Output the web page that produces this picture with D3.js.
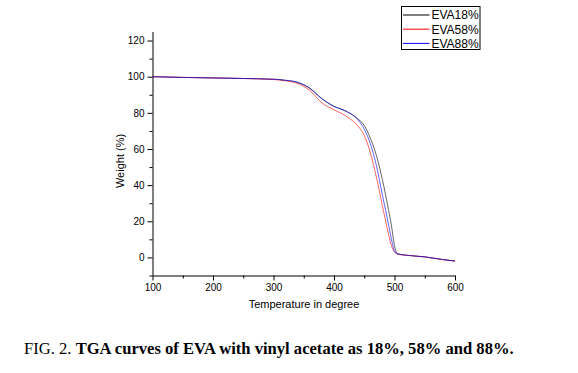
<!DOCTYPE html>
<html>
<head>
<meta charset="utf-8">
<script src="https://cdn.jsdelivr.net/npm/d3@7"></script>
<style>
  body { margin: 0; background: #fff; }
  svg { display: block; }
  .axis text { font-family: "Liberation Sans", Arial, sans-serif; font-size: 10px; fill: #000; }
  .axis path, .axis line { stroke: #000; }
</style>
</head>
<body>
<div class="chart"></div>
<script>
// temperature points (degree)
var temps = [100, 150, 200, 250, 300, 320, 340, 360, 380, 400, 420, 440, 450, 460, 470, 480, 490, 495, 500, 505, 520, 550, 580, 600];

// weight (%) for each sample
var eva18 = [100, 99.6, 99.3, 99.0, 98.6, 98.0, 96.8, 93.5, 87.8, 83.6, 80.8, 76.5, 73.0, 66.0, 56.5, 43.0, 26.5, 17.5, 6.5, 2.0, 1.2, 0.3, -1.2, -2.0];
var eva58 = [100, 99.6, 99.3, 99.0, 98.4, 97.7, 96.2, 92.4, 85.5, 81.7, 78.2, 72.5, 67.5, 58.0, 44.5, 28.6, 13.0, 6.5, 3.0, 1.8, 1.2, 0.3, -1.2, -2.0];
var eva88 = [100, 99.6, 99.3, 99.0, 98.6, 98.0, 96.9, 93.7, 87.8, 83.5, 81.0, 76.0, 71.0, 63.0, 51.0, 34.5, 18.5, 10.0, 3.5, 2.0, 1.2, 0.3, -1.2, -2.0];

var seriesNames = ["EVA18%", "EVA58%", "EVA88%"];
var seriesColors = ["#000000", "#ff0000", "#0000ff"];
var seriesValues = [eva18, eva58, eva88];

var xTicks = [100, 200, 300, 400, 500, 600];
var yTicks = [0, 20, 40, 60, 80, 100, 120];

var width = 578, height = 373;

var svg = d3.select("div.chart")
    .append("svg")
    .attr("width", width)
    .attr("height", height);

// scales
var x = d3.scaleLinear().domain([100, 600]).range([152.5, 455]);
var y = d3.scaleLinear().domain([-10, 125]).range([275.5, 31.5]);

// minor ticks first (no labels)
svg.append("g")
    .attr("class", "axis")
    .attr("transform", "translate(0,275.5)")
    .call(d3.axisBottom(x).tickValues(d3.range(150, 600, 100)).tickSize(3).tickFormat(""))
    .select(".domain").remove();

svg.append("g")
    .attr("class", "axis")
    .attr("transform", "translate(152.5,0)")
    .call(d3.axisLeft(y).tickValues(d3.range(-10, 125, 20)).tickSize(3).tickFormat(""))
    .select(".domain").remove();

// x axis
svg.append("g")
    .attr("class", "axis")
    .attr("transform", "translate(0,275.5)")
    .call(d3.axisBottom(x).tickValues(xTicks).tickSize(5).tickSizeOuter(0).tickPadding(3));

// y axis
svg.append("g")
    .attr("class", "axis")
    .attr("transform", "translate(152.5,0)")
    .call(d3.axisLeft(y).tickValues(yTicks).tickSize(5).tickSizeOuter(0).tickPadding(3));

// axis titles
svg.append("text")
    .attr("x", 304)
    .attr("y", 308)
    .attr("text-anchor", "middle")
    .style("font-family", "Liberation Sans, Arial, sans-serif")
    .style("font-size", "11px")
    .text("Temperature in degree");

svg.append("text")
    .attr("transform", "translate(123.5,161) rotate(-90)")
    .attr("text-anchor", "middle")
    .style("font-family", "Liberation Sans, Arial, sans-serif")
    .style("font-size", "11px")
    .text("Weight (%)");

// curves
var line = d3.line()
    .x(function (d) { return x(d[0]); })
    .y(function (d) { return y(d[1]); })
    .curve(d3.curveMonotoneX);

seriesValues.forEach(function (vals, i) {
    var pts = temps.map(function (t, j) { return [t, vals[j]]; });
    svg.append("path")
        .datum(pts)
        .attr("fill", "none")
        .attr("stroke", seriesColors[i])
        .attr("stroke-opacity", 0.6)
        .attr("stroke-width", 1)
        .attr("d", line);
});

// legend
var legend = svg.append("g");
legend.append("rect")
    .attr("x", 401.5).attr("y", 6.5)
    .attr("width", 78.5).attr("height", 43)
    .attr("fill", "#fff")
    .attr("stroke", "#000");

seriesNames.forEach(function (name, i) {
    var ly = 15 + i * 14.2;
    legend.append("line")
        .attr("x1", 403).attr("x2", 429.5)
        .attr("y1", ly).attr("y2", ly)
        .attr("stroke", seriesColors[i]);
    legend.append("text")
        .attr("x", 431.5)
        .attr("y", ly + 4.3)
        .style("font-family", "Liberation Sans, Arial, sans-serif")
        .style("font-size", "12px")
        .text(name);
});

// caption
var cap = svg.append("text")
    .attr("x", 24)
    .attr("y", 354)
    .style("font-family", "Liberation Serif, Times New Roman, serif")
    .style("font-size", "16.6px");
cap.append("tspan").text("FIG. 2. ");
cap.append("tspan").style("font-weight", "bold")
    .text("TGA curves of EVA with vinyl acetate as 18%, 58% and 88%.");
</script>
</body>
</html>
